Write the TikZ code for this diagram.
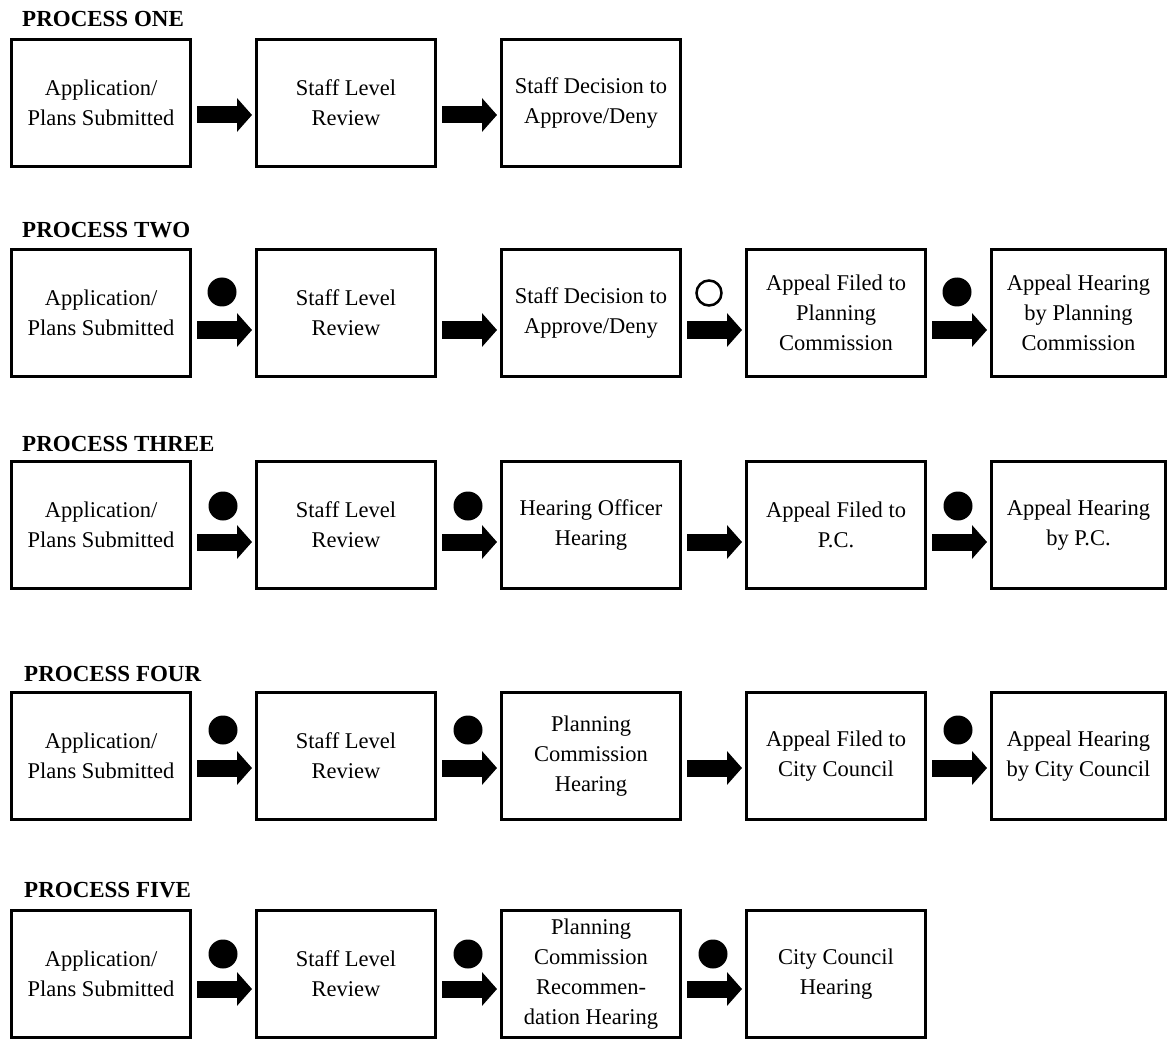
\documentclass[tikz,border=0pt]{standalone}
\usepackage{fontspec}
\setmainfont{Liberation Serif}
\usetikzlibrary{positioning,arrows.meta}

\tikzset{
  stepbox/.style={draw, line width=3pt, minimum width=179pt, minimum height=127pt,
    align=center, inner sep=2pt, font=\fontsize{22.5}{30}\selectfont},
  lastbox/.style={stepbox, minimum width=174pt},
  header/.style={anchor=base west, inner sep=0pt, font=\bfseries\fontsize{23}{28}\selectfont},
  flow/.style={line width=17pt, -{Triangle[length=15pt,width=33pt]}, shorten <=5pt, shorten >=3pt},
  fulldot/.style={circle, fill, minimum size=29pt, inner sep=0pt},
  opendot/.style={circle, draw, line width=2.5pt, minimum size=25pt, inner sep=0pt},
  node distance=63pt
}

\begin{document}
\begin{tikzpicture}[x=1pt, y=-1pt]
      \useasboundingbox (0,0) rectangle (1169,1040);

      % process one
      \node [header] (h1) at (22,27) {PROCESS ONE};
      \node [stepbox] (one1) at (101,103) {Application/\\Plans Submitted};
      \node [stepbox, right=of one1] (one2) {Staff Level\\Review};
      \node [stepbox, right=of one2] (one3) {Staff Decision to\\Approve/Deny};
      \draw [flow] ([yshift=-12pt]one1.east) -- ([yshift=-12pt]one2.west);
      \draw [flow] ([yshift=-12pt]one2.east) -- ([yshift=-12pt]one3.west);

      % process two
      \node [header] (h2) at (22,238) {PROCESS TWO};
      \node [stepbox] (two1) at (101,313) {Application/\\Plans Submitted};
      \node [stepbox, right=of two1] (two2) {Staff Level\\Review};
      \node [stepbox, right=of two2] (two3) {Staff Decision to\\Approve/Deny};
      \node [stepbox, right=of two3] (two4) {Appeal Filed to\\Planning\\Commission};
      \node [lastbox, right=of two4] (two5) {Appeal Hearing\\by Planning\\Commission};
      \draw [flow] ([yshift=-17pt]two1.east) -- ([yshift=-17pt]two2.west);
      \draw [flow] ([yshift=-17pt]two2.east) -- ([yshift=-17pt]two3.west);
      \draw [flow] ([yshift=-17pt]two3.east) -- ([yshift=-17pt]two4.west);
      \draw [flow] ([yshift=-17pt]two4.east) -- ([yshift=-17pt]two5.west);
      \node [fulldot] (d21) at ([xshift=30pt,yshift=21pt]two1.east) {};
      \node [opendot] (d23) at ([xshift=27pt,yshift=20pt]two3.east) {};
      \node [fulldot] (d24) at ([xshift=30pt,yshift=21pt]two4.east) {};

      % process three
      \node [header] (h3) at (22,451) {PROCESS THREE};
      \node [stepbox] (three1) at (101,525) {Application/\\Plans Submitted};
      \node [stepbox, right=of three1] (three2) {Staff Level\\Review};
      \node [stepbox, right=of three2] (three3) {Hearing Officer\\Hearing};
      \node [stepbox, right=of three3] (three4) {Appeal Filed to\\P.C.};
      \node [lastbox, right=of three4] (three5) {Appeal Hearing\\by P.C.};
      \draw [flow] ([yshift=-17pt]three1.east) -- ([yshift=-17pt]three2.west);
      \draw [flow] ([yshift=-17pt]three2.east) -- ([yshift=-17pt]three3.west);
      \draw [flow] ([yshift=-17pt]three3.east) -- ([yshift=-17pt]three4.west);
      \draw [flow] ([yshift=-17pt]three4.east) -- ([yshift=-17pt]three5.west);
      \node [fulldot] (d31) at ([xshift=31pt,yshift=19pt]three1.east) {};
      \node [fulldot] (d32) at ([xshift=31pt,yshift=19pt]three2.east) {};
      \node [fulldot] (d34) at ([xshift=31pt,yshift=19pt]three4.east) {};

      % process four
      \node [header] (h4) at (24,681) {PROCESS FOUR};
      \node [stepbox] (four1) at (101,756) {Application/\\Plans Submitted};
      \node [stepbox, right=of four1] (four2) {Staff Level\\Review};
      \node [stepbox, right=of four2] (four3) {Planning\\Commission\\Hearing};
      \node [stepbox, right=of four3] (four4) {Appeal Filed to\\City Council};
      \node [lastbox, right=of four4] (four5) {Appeal Hearing\\by City Council};
      \draw [flow] ([yshift=-12pt]four1.east) -- ([yshift=-12pt]four2.west);
      \draw [flow] ([yshift=-12pt]four2.east) -- ([yshift=-12pt]four3.west);
      \draw [flow] ([yshift=-12pt]four3.east) -- ([yshift=-12pt]four4.west);
      \draw [flow] ([yshift=-12pt]four4.east) -- ([yshift=-12pt]four5.west);
      \node [fulldot] (d41) at ([xshift=31pt,yshift=26pt]four1.east) {};
      \node [fulldot] (d42) at ([xshift=31pt,yshift=26pt]four2.east) {};
      \node [fulldot] (d44) at ([xshift=31pt,yshift=26pt]four4.east) {};

      % process five
      \node [header] (h5) at (24,897) {PROCESS FIVE};
      \node [stepbox] (five1) at (101,974) {Application/\\Plans Submitted};
      \node [stepbox, right=of five1] (five2) {Staff Level\\Review};
      \node [stepbox, right=of five2] (five3) {Planning\\Commission\\Recommen-\\dation Hearing};
      \node [stepbox, right=of five3] (five4) {City Council\\Hearing};
      \draw [flow] ([yshift=-15pt]five1.east) -- ([yshift=-15pt]five2.west);
      \draw [flow] ([yshift=-15pt]five2.east) -- ([yshift=-15pt]five3.west);
      \draw [flow] ([yshift=-15pt]five3.east) -- ([yshift=-15pt]five4.west);
      \node [fulldot] (d51) at ([xshift=31pt,yshift=20pt]five1.east) {};
      \node [fulldot] (d52) at ([xshift=31pt,yshift=20pt]five2.east) {};
      \node [fulldot] (d53) at ([xshift=31pt,yshift=20pt]five3.east) {};
    \end{tikzpicture}
\end{document}
